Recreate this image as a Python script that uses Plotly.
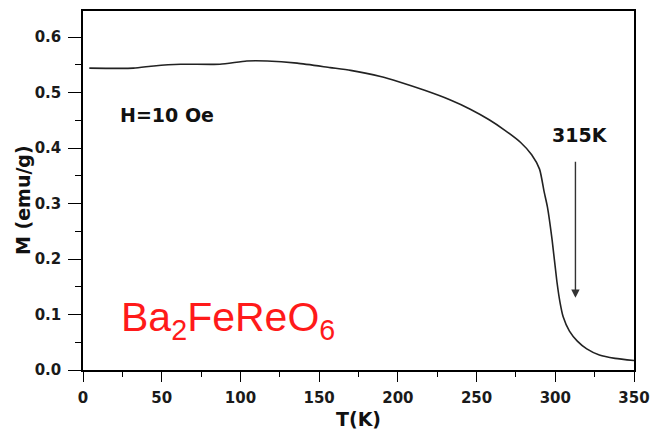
import plotly.graph_objects as go

T = [4, 32, 45, 62, 87, 104, 117, 136, 157, 170, 189, 201, 217, 233, 246, 258,
     268, 278, 285, 290, 293, 295, 298, 301, 303, 305, 309, 314, 320, 328, 338, 350]
M = [0.544, 0.544, 0.548, 0.551, 0.551, 0.557, 0.557, 0.553, 0.545, 0.540, 0.529,
     0.519, 0.504, 0.487, 0.470, 0.451, 0.432, 0.410, 0.388, 0.362, 0.320, 0.294,
     0.234, 0.160, 0.122, 0.096, 0.070, 0.052, 0.038, 0.027, 0.021, 0.017]

x_ticks = [0, 50, 100, 150, 200, 250, 300, 350]
y_ticks = [0.0, 0.1, 0.2, 0.3, 0.4, 0.5, 0.6]
y_tick_labels = ["0.0", "0.1", "0.2", "0.3", "0.4", "0.5", "0.6"]

arrow_T = 312.8
arrow_from = 0.378
arrow_to = 0.13

L, R, TOP, B = 83, 17, 11, 62
PW, PH = 651 - L - R, 432 - TOP - B

tickfont = dict(family="DejaVu Sans", size=15, color="#1a1a1a", weight="bold")

fig = go.Figure()
fig.add_trace(go.Scatter(x=T, y=M, mode="lines",
                         line=dict(color="#222222", width=1.6, shape="spline", smoothing=0.6),
                         showlegend=False, hoverinfo="skip"))

fig.update_layout(
    width=651, height=432,
    margin=dict(l=L, r=R, t=TOP, b=B, autoexpand=False),
    paper_bgcolor="white", plot_bgcolor="white",
    xaxis=dict(range=[0, 350], tickvals=x_ticks, ticks="outside", ticklen=10, tickwidth=1.4,
               tickcolor="black", showline=True, linecolor="black", linewidth=1.5, mirror=True,
               showgrid=False, zeroline=False, tickfont=tickfont, automargin=False,
               ticklabelstandoff=3,
               minor=dict(dtick=25, tick0=0, ticks="outside", ticklen=5, tickwidth=1.4,
                          tickcolor="black", showgrid=False)),
    yaxis=dict(range=[0, 0.647], tickvals=y_ticks, ticktext=y_tick_labels, ticks="outside", ticklen=13,
               tickwidth=1.4, tickcolor="black", showline=True, linecolor="black", linewidth=1.5,
               mirror=True, showgrid=False, zeroline=False, tickfont=tickfont, automargin=False,
               ticklabelstandoff=4,
               minor=dict(dtick=0.05, tick0=0, ticks="outside", ticklen=6, tickwidth=1.4,
                          tickcolor="black", showgrid=False)),
    annotations=[
        dict(text="<b>M (emu/g)</b>", xref="paper", yref="paper", x=(23 - L) / PW, y=(370 - 200) / PH,
             textangle=-90, showarrow=False, xanchor="center", yanchor="middle",
             font=dict(family="DejaVu Sans", size=19, color="#111")),
        dict(text="<b>T(K)</b>", xref="paper", yref="paper", x=(358 - L) / PW, y=(370 - 419) / PH,
             showarrow=False, xanchor="center", yanchor="middle",
             font=dict(family="DejaVu Sans", size=19, color="#111")),
        dict(text="<b>H=10 Oe</b>", xref="x", yref="y", x=22.2, y=0.459, xanchor="left", yanchor="middle",
             showarrow=False, font=dict(family="DejaVu Sans", size=19, color="#111")),
        dict(text="<b>315K</b>", xref="x", yref="y", x=315.7, y=0.423, xanchor="center", yanchor="middle",
             showarrow=False, font=dict(family="DejaVu Sans", size=19, color="#111")),
        dict(x=arrow_T, y=arrow_to, ax=arrow_T, ay=arrow_from, xref="x", yref="y", axref="x", ayref="y",
             showarrow=True, arrowhead=2, arrowsize=1.2, arrowwidth=1.4, arrowcolor="#333333", text=""),
        dict(text="Ba<sub>2</sub>FeReO<sub>6</sub>", xref="x", yref="y", x=23, y=0.09, xanchor="left",
             yanchor="middle", showarrow=False,
             font=dict(family="Liberation Sans", size=41, color="#ff1a1a")),
    ],
)

fig.write_html("out.html")
